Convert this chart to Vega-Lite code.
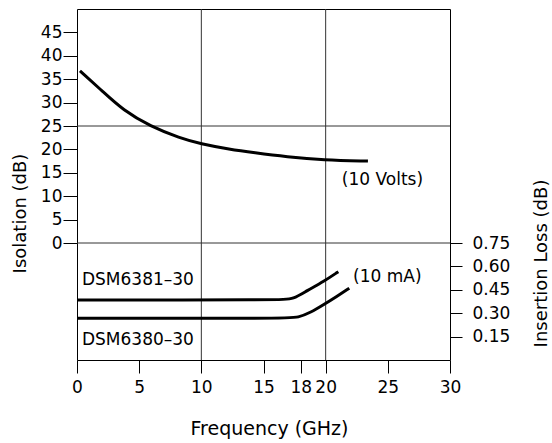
{
  "$schema": "https://vega.github.io/schema/vega-lite/v6.json",
  "width": 373,
  "height": 351,
  "autosize": {"type": "none"},
  "padding": {"left": 77, "top": 9, "right": 102, "bottom": 83},
  "background": "white",
  "config": {
    "font": "DejaVu Sans",
    "view": {"stroke": "#000", "strokeWidth": 1},
    "axis": {
      "domain": false,
      "grid": false,
      "labelFont": "DejaVu Sans",
      "labelFontSize": 17,
      "labelColor": "#000",
      "tickColor": "#000",
      "tickWidth": 1,
      "titleFont": "DejaVu Sans",
      "titleFontWeight": "normal",
      "titleColor": "#000",
      "labelOverlap": false,
      "labelFlush": false
    },
    "text": {"font": "DejaVu Sans", "fontSize": 17, "color": "#000"}
  },
  "layer": [
    {
      "layer": [
        {
          "data": {"values": [{"f": 10}, {"f": 20}]},
          "mark": {"type": "rule", "color": "#333", "strokeWidth": 1},
          "encoding": {
            "x": {
              "field": "f", "type": "quantitative",
              "scale": {"domain": [0, 30], "nice": false, "zero": false},
              "axis": {
                "values": [0, 5, 10, 15, 18, 20, 25, 30],
                "labelOverlap": false,
                "tickSize": 13,
                "labelPadding": 6,
                "title": "Frequency (GHz)",
                "titleFontSize": 19,
                "titleX": 192,
                "titleY": 68,
                "titleAlign": "center",
                "titleBaseline": "middle"
              }
            }
          }
        },
        {
          "data": {"values": [{"db": 0}, {"db": 25}]},
          "mark": {"type": "rule", "color": "#333", "strokeWidth": 1},
          "encoding": {
            "y": {
              "field": "db", "type": "quantitative",
              "scale": {"domain": [-25, 50], "nice": false, "zero": false},
              "axis": {
                "orient": "left",
                "values": [0, 5, 10, 15, 20, 25, 30, 35, 40, 45],
                "labelOverlap": false,
                "tickSize": 14,
                "labelPadding": 1,
                "title": "Isolation (dB)",
                "titleFontSize": 18,
                "titleAngle": 270,
                "titleX": -57,
                "titleY": 204,
                "titleAlign": "center",
                "titleBaseline": "middle"
              }
            }
          }
        },
        {
          "data": {"values": [
            {"f": 0.24, "db": 36.8},
            {"f": 2.1, "db": 32.3},
            {"f": 3.7, "db": 28.4},
            {"f": 5.9, "db": 24.9},
            {"f": 8.3, "db": 22.4},
            {"f": 9.9, "db": 21.2},
            {"f": 12.3, "db": 20.0},
            {"f": 14.2, "db": 19.3},
            {"f": 16.9, "db": 18.4},
            {"f": 19.8, "db": 17.7},
            {"f": 23.4, "db": 17.5}
          ]},
          "mark": {"type": "line", "color": "#000", "strokeWidth": 3, "interpolate": "basis"},
          "encoding": {
            "x": {
              "field": "f", "type": "quantitative",
              "scale": {"domain": [0, 30], "nice": false, "zero": false},
              "axis": {
                "values": [0, 5, 10, 15, 18, 20, 25, 30],
                "labelOverlap": false,
                "tickSize": 13,
                "labelPadding": 6,
                "title": "Frequency (GHz)",
                "titleFontSize": 19,
                "titleX": 192,
                "titleY": 68,
                "titleAlign": "center",
                "titleBaseline": "middle"
              }
            },
            "y": {
              "field": "db", "type": "quantitative",
              "scale": {"domain": [-25, 50], "nice": false, "zero": false},
              "axis": {
                "orient": "left",
                "values": [0, 5, 10, 15, 20, 25, 30, 35, 40, 45],
                "labelOverlap": false,
                "tickSize": 14,
                "labelPadding": 1,
                "title": "Isolation (dB)",
                "titleFontSize": 18,
                "titleAngle": 270,
                "titleX": -57,
                "titleY": 204,
                "titleAlign": "center",
                "titleBaseline": "middle"
              }
            }
          }
        },
        {
          "data": {"values": [
            {"f": 21.3, "db": 13.5, "label": "(10 Volts)"},
            {"f": 22.2, "db": -7.3, "label": "(10 mA)"},
            {"f": 0.4, "db": -7.9, "label": "DSM6381–30"},
            {"f": 0.4, "db": -20.7, "label": "DSM6380–30"}
          ]},
          "mark": {"type": "text", "align": "left", "baseline": "middle"},
          "encoding": {
            "x": {
              "field": "f", "type": "quantitative",
              "scale": {"domain": [0, 30], "nice": false, "zero": false},
              "axis": {
                "values": [0, 5, 10, 15, 18, 20, 25, 30],
                "labelOverlap": false,
                "tickSize": 13,
                "labelPadding": 6,
                "title": "Frequency (GHz)",
                "titleFontSize": 19,
                "titleX": 192,
                "titleY": 68,
                "titleAlign": "center",
                "titleBaseline": "middle"
              }
            },
            "y": {
              "field": "db", "type": "quantitative",
              "scale": {"domain": [-25, 50], "nice": false, "zero": false},
              "axis": {
                "orient": "left",
                "values": [0, 5, 10, 15, 20, 25, 30, 35, 40, 45],
                "labelOverlap": false,
                "tickSize": 14,
                "labelPadding": 1,
                "title": "Isolation (dB)",
                "titleFontSize": 18,
                "titleAngle": 270,
                "titleX": -57,
                "titleY": 204,
                "titleAlign": "center",
                "titleBaseline": "middle"
              }
            },
            "text": {"field": "label"}
          }
        }
      ]
    },
    {
      "data": {"values": [
        {"f": 0, "il": 0.385, "model": "DSM6381-30"},
        {"f": 16.4, "il": 0.385, "model": "DSM6381-30"},
        {"f": 17.4, "il": 0.39, "model": "DSM6381-30"},
        {"f": 18.48, "il": 0.444, "model": "DSM6381-30"},
        {"f": 19.82, "il": 0.502, "model": "DSM6381-30"},
        {"f": 21.02, "il": 0.566, "model": "DSM6381-30"},
        {"f": 0, "il": 0.267, "model": "DSM6380-30"},
        {"f": 16.8, "il": 0.267, "model": "DSM6380-30"},
        {"f": 17.8, "il": 0.272, "model": "DSM6380-30"},
        {"f": 18.8, "il": 0.305, "model": "DSM6380-30"},
        {"f": 19.8, "il": 0.353, "model": "DSM6380-30"},
        {"f": 20.9, "il": 0.408, "model": "DSM6380-30"},
        {"f": 21.9, "il": 0.46, "model": "DSM6380-30"}
      ]},
      "mark": {"type": "line", "color": "#000", "strokeWidth": 3, "interpolate": "basis"},
      "encoding": {
        "x": {
          "field": "f", "type": "quantitative",
          "scale": {"domain": [0, 30], "nice": false, "zero": false},
          "axis": {
            "values": [0, 5, 10, 15, 18, 20, 25, 30],
            "labelOverlap": false,
            "tickSize": 13,
            "labelPadding": 6,
            "title": "Frequency (GHz)",
            "titleFontSize": 19,
            "titleX": 192,
            "titleY": 68,
            "titleAlign": "center",
            "titleBaseline": "middle"
          }
        },
        "y": {
          "field": "il", "type": "quantitative",
          "scale": {"domain": [0, 2.25], "nice": false, "zero": false},
          "axis": {
            "orient": "right",
            "values": [0.15, 0.3, 0.45, 0.6, 0.75],
            "labelOverlap": false,
            "format": ".2f",
            "tickSize": 12,
            "labelPadding": 10,
            "title": "Insertion Loss (dB)",
            "titleFontSize": 18,
            "titleAngle": 270,
            "titleX": 91,
            "titleY": 254,
            "titleAlign": "center",
            "titleBaseline": "middle"
          }
        },
        "detail": {"field": "model", "type": "nominal"}
      }
    }
  ],
  "resolve": {"scale": {"y": "independent"}, "axis": {"y": "independent"}}
}
